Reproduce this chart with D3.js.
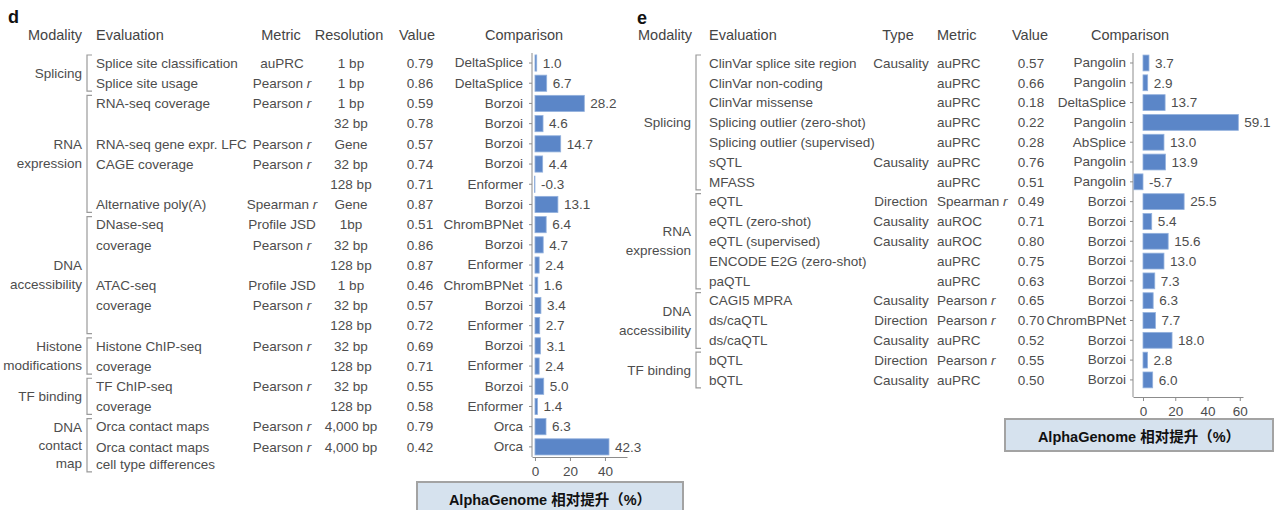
<!DOCTYPE html>
<html>
<head>
<meta charset="utf-8">
<script src="https://cdn.jsdelivr.net/npm/d3@7"></script>
<style>
  body { margin: 0; background: #fff; }
  svg { font-family: "Liberation Sans", Arial, sans-serif; }
  .cell { font-size: 13.5px; fill: #4d4d4d; }
  .head { font-size: 14.5px; fill: #444; }
  .axis text { font-size: 13.5px; fill: #4d4d4d; font-family: "Liberation Sans", Arial, sans-serif; }
  .axis path, .axis line { stroke: #8c8c8c; }
  .bracket { fill: none; stroke: #9a9a9a; stroke-width: 1.2; }
  .bar { fill: #5b86c8; stroke: #93b1dd; stroke-width: 0.8; }
  .legend rect { fill: #d6e2ee; stroke: #a3a3a3; stroke-width: 2; }
  .legend text { font-size: 14.5px; font-weight: bold; fill: #111; font-family: "Liberation Sans", "Noto Sans CJK SC", sans-serif; }
</style>
</head>
<body>
<svg width="1276" height="510"></svg>
<script>
// ---- panel d : sequence-level tracks ----
var dEval = ['Splice site classification', 'Splice site usage', 'RNA-seq coverage', '', 'RNA-seq gene expr. LFC',
    'CAGE coverage', '', 'Alternative poly(A)', 'DNase-seq', 'coverage', '', 'ATAC-seq', 'coverage', '',
    'Histone ChIP-seq', 'coverage', 'TF ChIP-seq', 'coverage', 'Orca contact maps', 'Orca contact maps|cell type differences'];
var dMetric = ['auPRC', 'Pearson r', 'Pearson r', '', 'Pearson r', 'Pearson r', '', 'Spearman r', 'Profile JSD', 'Pearson r',
    '', 'Profile JSD', 'Pearson r', '', 'Pearson r', '', 'Pearson r', '', 'Pearson r', 'Pearson r'];
var dResolution = ['1 bp', '1 bp', '1 bp', '32 bp', 'Gene', '32 bp', '128 bp', 'Gene', '1bp', '32 bp', '128 bp', '1 bp',
    '32 bp', '128 bp', '32 bp', '128 bp', '32 bp', '128 bp', '4,000 bp', '4,000 bp'];
var dValue = ['0.79', '0.86', '0.59', '0.78', '0.57', '0.74', '0.71', '0.87', '0.51', '0.86', '0.87', '0.46', '0.57',
    '0.72', '0.69', '0.71', '0.55', '0.58', '0.79', '0.42'];
var dComparison = ['DeltaSplice', 'DeltaSplice', 'Borzoi', 'Borzoi', 'Borzoi', 'Borzoi', 'Enformer', 'Borzoi', 'ChromBPNet',
    'Borzoi', 'Enformer', 'ChromBPNet', 'Borzoi', 'Enformer', 'Borzoi', 'Enformer', 'Borzoi', 'Enformer', 'Orca', 'Orca'];
var dGain = [1.0, 6.7, 28.2, 4.6, 14.7, 4.4, -0.3, 13.1, 6.4, 4.7, 2.4, 1.6, 3.4, 2.7, 3.1, 2.4, 5.0, 1.4, 6.3, 42.3];
var dGroups = [['Splicing'], ['RNA', 'expression'], ['DNA', 'accessibility'], ['Histone', 'modifications'], ['TF binding'], ['DNA', 'contact', 'map']];
var dGroupRows = [[0, 1], [2, 7], [8, 13], [14, 15], [16, 17], [18, 19]];
var dTicks = [0, 20, 40];

// ---- panel e : variant effects ----
var eEval = ['ClinVar splice site region', 'ClinVar non-coding', 'ClinVar missense', 'Splicing outlier (zero-shot)',
    'Splicing outlier (supervised)', 'sQTL', 'MFASS', 'eQTL', 'eQTL (zero-shot)', 'eQTL (supervised)',
    'ENCODE E2G (zero-shot)', 'paQTL', 'CAGI5 MPRA', 'ds/caQTL', 'ds/caQTL', 'bQTL', 'bQTL'];
var eType = ['Causality', '', '', '', '', 'Causality', '', 'Direction', 'Causality', 'Causality', '', '', 'Causality',
    'Direction', 'Causality', 'Direction', 'Causality'];
var eMetric = ['auPRC', 'auPRC', 'auPRC', 'auPRC', 'auPRC', 'auPRC', 'auPRC', 'Spearman r', 'auROC', 'auROC', 'auPRC',
    'auPRC', 'Pearson r', 'Pearson r', 'auPRC', 'Pearson r', 'auPRC'];
var eValue = ['0.57', '0.66', '0.18', '0.22', '0.28', '0.76', '0.51', '0.49', '0.71', '0.80', '0.75', '0.63', '0.65',
    '0.70', '0.52', '0.55', '0.50'];
var eComparison = ['Pangolin', 'Pangolin', 'DeltaSplice', 'Pangolin', 'AbSplice', 'Pangolin', 'Pangolin', 'Borzoi', 'Borzoi',
    'Borzoi', 'Borzoi', 'Borzoi', 'Borzoi', 'ChromBPNet', 'Borzoi', 'Borzoi', 'Borzoi'];
var eGain = [3.7, 2.9, 13.7, 59.1, 13.0, 13.9, -5.7, 25.5, 5.4, 15.6, 13.0, 7.3, 6.3, 7.7, 18.0, 2.8, 6.0];
var eGroups = [['Splicing'], ['RNA', 'expression'], ['DNA', 'accessibility'], ['TF binding']];
var eGroupRows = [[0, 6], [7, 11], [12, 14], [15, 16]];
var eTicks = [0, 20, 40, 60];

var legendLabel = 'AlphaGenome 相对提升（%）';

var svg = d3.select('svg');

// text with an italic "r" at the end of correlation names
function cellText(sel, s) {
    if (/ r$/.test(s)) {
        sel.text(s.slice(0, -1));
        sel.append('tspan').style('font-style', 'italic').text('r');
    } else {
        sel.text(s);
    }
}

function drawPanel(p) {
    var g = svg.append('g');
    var n = p.gain.length;
    var y = d3.scaleBand().domain(d3.range(n)).range(p.yRange).padding(0.2);
    var x = d3.scaleLinear().domain(p.xDomain).range(p.xRange);
    var yc = function(i) { return y(i) + y.bandwidth() / 2; };

    g.append('text').attr('x', p.letter[0]).attr('y', p.letter[1])
        .style('font-size', '18px').style('font-weight', 'bold').style('fill', '#111').text(p.name);

    // headers
    p.headers.forEach(function(h) {
        g.append('text').attr('class', 'head').attr('x', h[1]).attr('y', p.headY)
            .attr('text-anchor', h[2]).text(h[0]);
    });

    // table columns
    p.columns.forEach(function(c) {
        c.data.forEach(function(s, i) {
            if (!s) return;
            var parts = s.split('|');
            parts.forEach(function(part, k) {
                var t = g.append('text').attr('class', 'cell').attr('x', c.x).attr('y', yc(i) + k * 17)
                    .attr('dy', '0.35em').attr('text-anchor', c.anchor);
                cellText(t, part);
            });
        });
    });

    // modality brackets + labels
    p.groupRows.forEach(function(r, gi) {
        var extra = (p.evalCol[r[1]] || '').split('|').length - 1;
        var top = yc(r[0]) - 8, bottom = yc(r[1]) + 8 + extra * 17;
        g.append('path').attr('class', 'bracket')
            .attr('d', 'M' + (p.bracketX + 5) + ',' + top + 'H' + p.bracketX + 'V' + bottom + 'H' + (p.bracketX + 5));
        var lines = p.groups[gi];
        var mid = (top + bottom) / 2;
        var lh = lines.length > 2 ? 18 : 19;
        lines.forEach(function(l, k) {
            g.append('text').attr('class', 'cell').attr('text-anchor', 'end')
                .attr('x', p.modalityX).attr('y', mid + (k - (lines.length - 1) / 2) * lh)
                .attr('dy', '0.35em').text(l);
        });
    });

    // axes
    var yAxis = d3.axisLeft(y).tickSize(3).tickPadding(p.tickPad)
        .tickFormat(function(i) { return p.comparison[i]; });
    var ya = g.append('g').attr('class', 'axis').attr('transform', 'translate(' + p.xRange[0] + ',0)').call(yAxis);
    ya.select('.domain').remove();
    ya.selectAll('line').attr('stroke', '#aaa');
    g.append('line').attr('x1', p.xRange[0]).attr('x2', p.xRange[0])
        .attr('y1', 53).attr('y2', p.axisY).attr('stroke', '#8c8c8c');

    var xAxis = d3.axisBottom(x).tickValues(p.ticks).tickSize(4).tickSizeOuter(0).tickPadding(5);
    g.append('g').attr('class', 'axis').attr('transform', 'translate(0,' + p.axisY + ')').call(xAxis);

    // bars
    g.selectAll('.bar').data(p.gain).enter().append('rect')
        .attr('class', 'bar')
        .attr('x', function(d) { return x(Math.min(0, d)); })
        .attr('y', function(d, i) { return y(i); })
        .attr('width', function(d) { return Math.abs(x(d) - x(0)); })
        .attr('height', y.bandwidth());

    g.selectAll('.vlab').data(p.gain).enter().append('text')
        .attr('class', 'cell')
        .attr('x', function(d) { return x(Math.max(0, d)) + 6; })
        .attr('y', function(d, i) { return yc(i); })
        .attr('dy', '0.35em')
        .text(function(d) { return d.toFixed(1); });

    // legend box
    var lg = g.append('g').attr('class', 'legend');
    lg.append('rect').attr('x', p.legend[0]).attr('y', p.legend[1]).attr('width', p.legend[2]).attr('height', p.legend[3]);
    lg.append('text').attr('x', p.legend[0] + p.legend[2] / 2).attr('y', p.legend[4])
        .attr('text-anchor', 'middle').text(legendLabel);
}

drawPanel({
    name: 'd', letter: [8, 23], headY: 40,
    gain: dGain, comparison: dComparison, evalCol: dEval,
    groups: dGroups, groupRows: dGroupRows, ticks: dTicks,
    yRange: [50.9, 459], xDomain: [-1.7, 52.6], xRange: [532, 627], axisY: 457, tickPad: 6,
    modalityX: 82, bracketX: 87,
    headers: [['Modality', 82, 'end'], ['Evaluation', 96, 'start'], ['Metric', 281, 'middle'],
        ['Resolution', 349, 'middle'], ['Value', 417, 'middle'], ['Comparison', 524, 'middle']],
    columns: [
        { data: dEval, x: 96, anchor: 'start' },
        { data: dMetric, x: 282, anchor: 'middle' },
        { data: dResolution, x: 351, anchor: 'middle' },
        { data: dValue, x: 420, anchor: 'middle' }
    ],
    legend: [417, 482, 266, 34, 505]
});

drawPanel({
    name: 'e', letter: [637, 24], headY: 40,
    gain: eGain, comparison: eComparison, evalCol: eEval,
    groups: eGroups, groupRows: eGroupRows, ticks: eTicks,
    yRange: [51.1, 391.8], xDomain: [-6.2, 62], xRange: [1133, 1243], axisY: 397, tickPad: 4,
    modalityX: 691, bracketX: 696,
    headers: [['Modality', 692, 'end'], ['Evaluation', 709, 'start'], ['Type', 898, 'middle'],
        ['Metric', 937, 'start'], ['Value', 1030, 'middle'], ['Comparison', 1130, 'middle']],
    columns: [
        { data: eEval, x: 709, anchor: 'start' },
        { data: eType, x: 901, anchor: 'middle' },
        { data: eMetric, x: 937, anchor: 'start' },
        { data: eValue, x: 1031, anchor: 'middle' }
    ],
    legend: [1005, 419, 268, 32, 442]
});
</script>
</body>
</html>
